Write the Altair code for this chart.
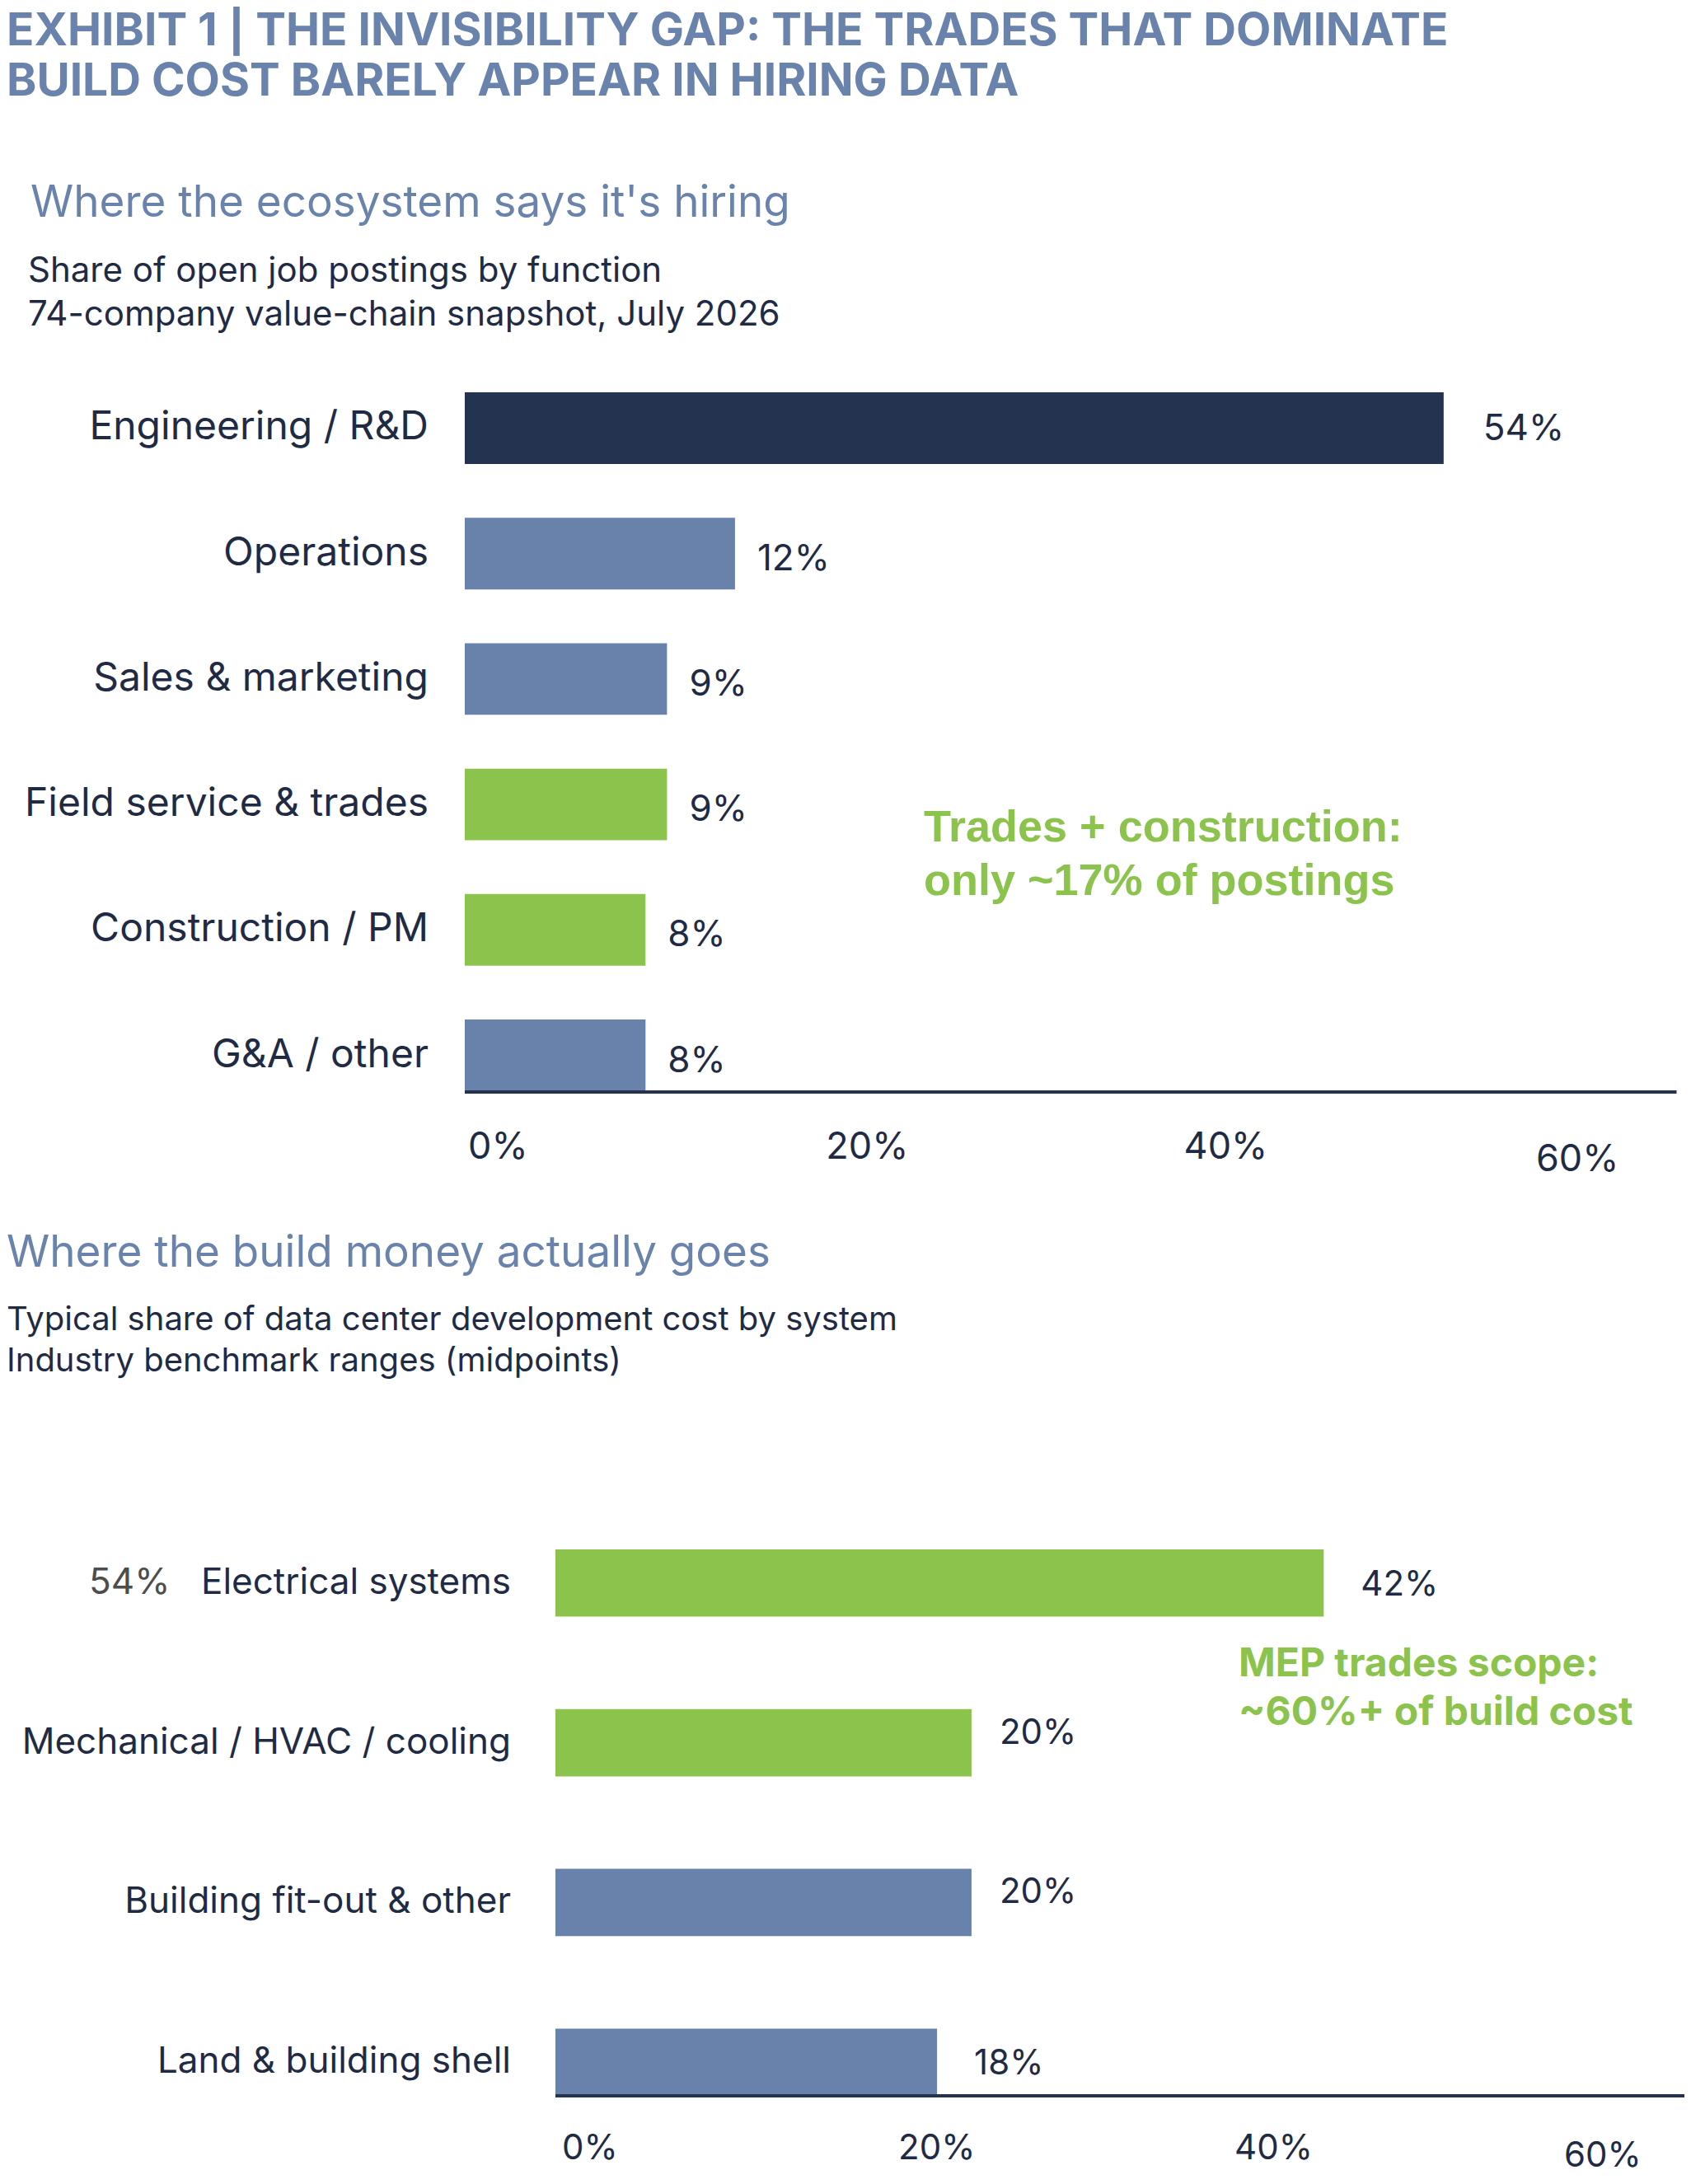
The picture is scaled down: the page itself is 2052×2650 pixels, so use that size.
import altair as alt
import pandas as pd

# ---------------- data ----------------
title_lines = ["EXHIBIT 1 | THE INVISIBILITY GAP: THE TRADES THAT DOMINATE",
               "BUILD COST BARELY APPEAR IN HIRING DATA"]

top_heading = "Where the ecosystem says it's hiring"
top_sub = ["Share of open job postings by function",
           "74-company value-chain snapshot, July 2026"]
top_categories = ["Engineering / R&D", "Operations", "Sales & marketing",
                  "Field service & trades", "Construction / PM", "G&A / other"]
top_values = [54, 12, 9, 9, 8, 8]                      # printed labels (%)
top_bar_lengths = [54.7, 15.1, 11.3, 11.3, 10.1, 10.1]  # bar ends (%)
top_groups = ["navy", "slate", "slate", "green", "green", "slate"]
top_note = ["Trades + construction:", "only ~17% of postings"]

bot_heading = "Where the build money actually goes"
bot_sub = ["Typical share of data center development cost by system",
           "Industry benchmark ranges (midpoints)"]
bot_categories = ["Electrical systems", "Mechanical / HVAC / cooling",
                  "Building fit-out & other", "Land & building shell"]
bot_values = [42, 20, 20, 18]
bot_bar_lengths = [45.7, 24.75, 24.75, 22.7]
bot_groups = ["green", "green", "slate", "slate"]
bot_stray = ["54%"]
bot_note = ["MEP trades scope:", "~60%+ of build cost"]

tick_values = [0, 20, 40, 60]
top_axis_end = 67.7
bot_axis_end = 67.6

# ---------------- styles ----------------
NAVY = "#243350"
SLATE = "#6882ac"
GREEN = "#8bc34c"
TEXT = "#1f2b45"
TITLE = "#6a83ad"
FONT = "Inter"

color_scale = alt.Scale(domain=["navy", "slate", "green"], range=[NAVY, SLATE, GREEN])

top_df = pd.DataFrame({"cat": top_categories, "val": top_values,
                       "len": top_bar_lengths, "grp": top_groups})
bot_df = pd.DataFrame({"cat": bot_categories, "val": bot_values,
                       "len": bot_bar_lengths, "grp": bot_groups})
ticks_df = pd.DataFrame({"v": tick_values})

x_top = alt.Scale(domain=[0, 68.2], range=[556, 2037], nice=False, zero=True)
y_top = alt.Scale(type="band", domain=top_categories, range=[468, 1316],
                  paddingInner=0.429, paddingOuter=0)
x_bot = alt.Scale(domain=[0, 67.35], range=[666, 2040], nice=False, zero=True)
y_bot = alt.Scale(type="band", domain=bot_categories, range=[1872, 2535],
                  paddingInner=0.579, paddingOuter=0)


def ytop():
    return alt.Y("cat:N", scale=y_top, axis=None, sort=None, bandPosition=0.5)


def ybot():
    return alt.Y("cat:N", scale=y_bot, axis=None, sort=None, bandPosition=0.5)


def text_block(lines, x, y, size, color, weight="normal", font=FONT, line_height=None):
    df = pd.DataFrame({"t": ["\n".join(lines)]})
    kw = dict(align="left", baseline="alphabetic", font=font, fontSize=size,
              fontWeight=weight, color=color, lineBreak="\n")
    if line_height:
        kw["lineHeight"] = line_height
    return alt.Chart(df).mark_text(**kw).encode(x=alt.value(x), y=alt.value(y), text="t:N")


layers = []

# titles / headings
layers.append(text_block([title_lines[0]], 0, 47, 55, TITLE, weight="bold"))
layers.append(text_block([title_lines[1]], 0, 108, 55, TITLE, weight="bold"))
layers.append(text_block([top_heading], 29, 255, 53, TITLE))
layers.append(text_block(top_sub, 26, 334, 42, TEXT, line_height=53))
layers.append(text_block([bot_heading], 0, 1529, 53, TITLE))
layers.append(text_block(bot_sub, 0, 1606, 40, TEXT, line_height=50))

# ---------- top chart ----------
top_base = alt.Chart(top_df)
layers.append(top_base.mark_bar().encode(
    x=alt.X("len:Q", scale=x_top, axis=None),
    y=alt.Y("cat:N", scale=y_top, axis=None, sort=None),
    color=alt.Color("grp:N", scale=color_scale, legend=None)))
layers.append(top_base.mark_text(align="right", baseline="middle", font=FONT,
                                 fontSize=48, color=TEXT).encode(
    x=alt.value(512), y=ytop(), text="cat:N"))
layers.append(top_base.transform_filter(alt.datum.val > 50).transform_calculate(
    lab="datum.val + '%'").mark_text(align="left", baseline="middle", font=FONT,
                                    fontSize=44, color=TEXT, dx=48, dy=2).encode(
    x=alt.X("len:Q", scale=x_top, axis=None), y=ytop(), text="lab:N"))
layers.append(top_base.transform_filter(alt.datum.val <= 50).transform_calculate(
    lab="datum.val + '%'").mark_text(align="left", baseline="middle", font=FONT,
                                    fontSize=44, color=TEXT, dx=27, dy=7).encode(
    x=alt.X("len:Q", scale=x_top, axis=None), y=ytop(), text="lab:N"))
layers.append(alt.Chart(ticks_df).mark_rule(color=NAVY, strokeWidth=4).encode(
    x=alt.X(datum=0, type="quantitative", scale=x_top, axis=None),
    x2=alt.X2(datum=top_axis_end),
    y=alt.value(1317)))
layers.append(alt.Chart(ticks_df).transform_filter(alt.datum.v < 60).transform_calculate(
    lab="datum.v + '%'").mark_text(align="left", baseline="alphabetic", font=FONT,
                                  fontSize=45, color=TEXT, dx=4).encode(
    x=alt.X("v:Q", scale=x_top, axis=None), y=alt.value(1398), text="lab:N"))
layers.append(alt.Chart(ticks_df).transform_filter(alt.datum.v == 60).transform_calculate(
    lab="datum.v + '%'").mark_text(align="left", baseline="alphabetic", font=FONT,
                                  fontSize=45, color=TEXT, dx=-3).encode(
    x=alt.X("v:Q", scale=x_top, axis=None), y=alt.value(1413), text="lab:N"))
layers.append(text_block(top_note, 1113, 1013, 54, GREEN, weight="bold",
                         font="Liberation Sans", line_height=65))

# ---------- bottom chart ----------
bot_base = alt.Chart(bot_df)
layers.append(bot_base.mark_bar().encode(
    x=alt.X("len:Q", scale=x_bot, axis=None),
    y=alt.Y("cat:N", scale=y_bot, axis=None, sort=None),
    color=alt.Color("grp:N", scale=color_scale, legend=None)))
layers.append(bot_base.mark_text(align="right", baseline="middle", font=FONT,
                                 fontSize=44, color=TEXT).encode(
    x=alt.value(612), y=ybot(), text="cat:N"))
layers.append(alt.Chart(pd.DataFrame({"cat": [bot_categories[0]], "t": bot_stray})).mark_text(
    align="left", baseline="middle", font=FONT, fontSize=44, color="#4d4d4d").encode(
    x=alt.value(100), y=ybot(), text="t:N"))
layers.append(bot_base.transform_filter(alt.datum.val != 20).transform_calculate(
    lab="datum.val + '%'").mark_text(align="left", baseline="middle", font=FONT,
                                    fontSize=42, color=TEXT, dx=45, dy=2).encode(
    x=alt.X("len:Q", scale=x_bot, axis=None), y=ybot(), text="lab:N"))
layers.append(bot_base.transform_filter(alt.datum.val == 20).transform_calculate(
    lab="datum.val + '%'").mark_text(align="left", baseline="middle", font=FONT,
                                    fontSize=42, color=TEXT, dx=34, dy=-12).encode(
    x=alt.X("len:Q", scale=x_bot, axis=None), y=ybot(), text="lab:N"))
layers.append(alt.Chart(ticks_df).mark_rule(color=NAVY, strokeWidth=4).encode(
    x=alt.X(datum=0, type="quantitative", scale=x_bot, axis=None),
    x2=alt.X2(datum=bot_axis_end),
    y=alt.value(2535)))
layers.append(alt.Chart(ticks_df).transform_filter(alt.datum.v < 60).transform_calculate(
    lab="datum.v + '%'").mark_text(align="left", baseline="alphabetic", font=FONT,
                                  fontSize=42, color=TEXT, dx=8).encode(
    x=alt.X("v:Q", scale=x_bot, axis=None), y=alt.value(2612), text="lab:N"))
layers.append(alt.Chart(ticks_df).transform_filter(alt.datum.v == 60).transform_calculate(
    lab="datum.v + '%'").mark_text(align="left", baseline="alphabetic", font=FONT,
                                  fontSize=42, color=TEXT, dx=0).encode(
    x=alt.X("v:Q", scale=x_bot, axis=None), y=alt.value(2621), text="lab:N"))
layers.append(text_block(bot_note, 1495, 2026, 48, GREEN, weight="bold", line_height=59))

chart = alt.layer(*layers).resolve_scale(x="independent", y="independent").properties(
    width=2036, height=2634, autosize=alt.AutoSizeParams(type="none"), padding=0,
    background="white"
).configure_view(stroke=None)

chart.save("out.html", embed_options={"renderer": "svg", "actions": False})
